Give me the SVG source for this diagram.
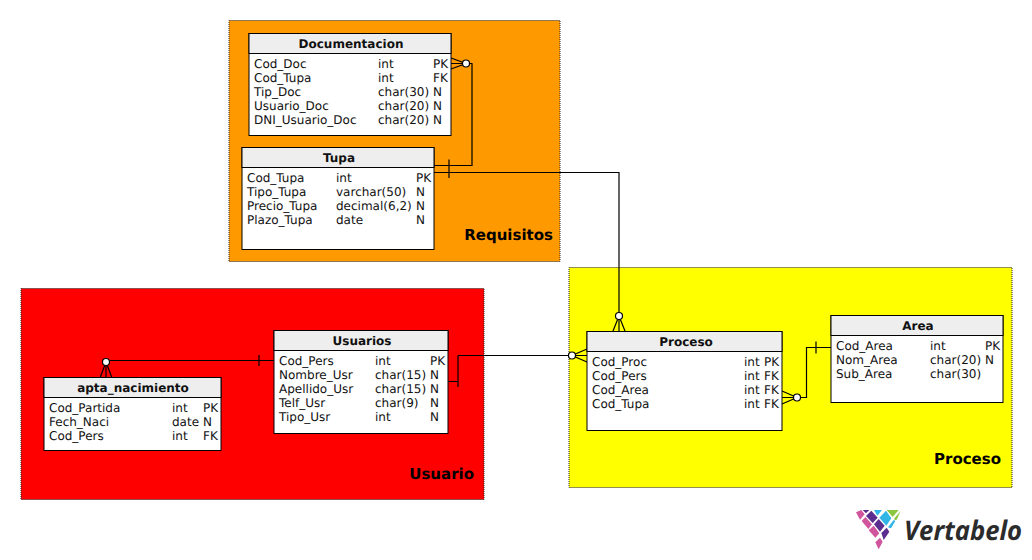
<svg xmlns="http://www.w3.org/2000/svg" width="1032" height="560" viewBox="0 0 1032 560">
<style>
text{font-family:"DejaVu Sans",sans-serif;font-size:12px;fill:#111;text-rendering:geometricPrecision}
.t{font-weight:bold;text-anchor:middle;font-size:12px}
.z{font-weight:bold;font-size:15px;fill:#000;text-anchor:end}
.r{stroke:#222;stroke-width:1;stroke-dasharray:1 1;stroke-dashoffset:0.5}
.b{fill:#fff;stroke:#000;stroke-width:1}
.h{fill:#eee;stroke:#000;stroke-width:1}
.c{fill:none;stroke:#000;stroke-width:1.2}
.o{fill:#fff;stroke:#000;stroke-width:1.2}
</style>
<rect width="1032" height="560" fill="#fff"/>
<g id="region-requisitos"><rect class="r" x="229" y="20.500" width="331" height="241" fill="#ff9900"/><text class="z" x="553" y="240">Requisitos</text></g>
<g id="region-usuario"><rect class="r" x="21" y="288.500" width="463" height="211" fill="#ff0000"/><text class="z" x="474" y="479">Usuario</text></g>
<g id="region-proceso"><rect class="r" x="569" y="267.500" width="443" height="220" fill="#ffff00"/><text class="z" x="1001" y="464">Proceso</text></g>
<g id="connectors">
<path class="c" d="M451 63.500H472V165.500H434M449 159.500V178"/>
<path class="c" d="M451 58L466 63.500L451 69M451 63.500H466"/>
<circle class="o" cx="466" cy="63.500" r="3.500"/>
<path class="c" d="M434 172.500H619V332M613 331L619 316L625 331"/>
<circle class="o" cx="619" cy="316" r="3.500"/>
<path class="c" d="M448 381.500H458M458 355.500V387M458 355.500H587"/>
<path class="c" d="M587 349L572 355.500L587 362"/>
<circle class="o" cx="572" cy="355.500" r="3.500"/>
<path class="c" d="M782 391L797 397.500L782 404M782 397.500H806.500V347.500H831M816 341.500V353.500"/>
<circle class="o" cx="797" cy="397.500" r="3.500"/>
<path class="c" d="M274 360.500H106M259 355V366"/>
<path class="c" d="M100 378L106 362L112 378M106 362V378"/>
<circle class="o" cx="106" cy="362" r="3.500"/>
</g>
<g id="documentacion"><rect class="b" x="249" y="33.500" width="202" height="102"/><rect class="h" x="249" y="33.500" width="202" height="20"/><text class="t" x="351" y="48">Documentacion</text>
<text x="254" y="68">Cod_Doc</text><text x="378" y="68">int</text><text x="433" y="68">PK</text>
<text x="254" y="82">Cod_Tupa</text><text x="378" y="82">int</text><text x="433" y="82">FK</text>
<text x="254" y="96">Tip_Doc</text><text x="378" y="96">char(30)</text><text x="433" y="96">N</text>
<text x="254" y="110">Usuario_Doc</text><text x="378" y="110">char(20)</text><text x="433" y="110">N</text>
<text x="254" y="124">DNI_Usuario_Doc</text><text x="378" y="124">char(20)</text><text x="433" y="124">N</text></g>
<g id="tupa"><rect class="b" x="242" y="147.500" width="192" height="102"/><rect class="h" x="242" y="147.500" width="192" height="20"/><text class="t" x="339" y="162">Tupa</text>
<text x="247" y="182">Cod_Tupa</text><text x="336" y="182">int</text><text x="416" y="182">PK</text>
<text x="247" y="196">Tipo_Tupa</text><text x="336" y="196">varchar(50)</text><text x="416" y="196">N</text>
<text x="247" y="210">Precio_Tupa</text><text x="336" y="210">decimal(6,2)</text><text x="416" y="210">N</text>
<text x="247" y="224">Plazo_Tupa</text><text x="336" y="224">date</text><text x="416" y="224">N</text></g>
<g id="usuarios"><rect class="b" x="274" y="330.500" width="174" height="103"/><rect class="h" x="274" y="330.500" width="174" height="20"/><text class="t" x="362" y="345">Usuarios</text>
<text x="279" y="365">Cod_Pers</text><text x="375" y="365">int</text><text x="430" y="365">PK</text>
<text x="279" y="379">Nombre_Usr</text><text x="375" y="379">char(15)</text><text x="430" y="379">N</text>
<text x="279" y="393">Apellido_Usr</text><text x="375" y="393">char(15)</text><text x="430" y="393">N</text>
<text x="279" y="407">Telf_Usr</text><text x="375" y="407">char(9)</text><text x="430" y="407">N</text>
<text x="279" y="421">Tipo_Usr</text><text x="375" y="421">int</text><text x="430" y="421">N</text></g>
<g id="apta_nacimiento"><rect class="b" x="44" y="377.500" width="177" height="73"/><rect class="h" x="44" y="377.500" width="177" height="20"/><text class="t" x="133" y="392">apta_nacimiento</text>
<text x="49" y="412">Cod_Partida</text><text x="172" y="412">int</text><text x="203" y="412">PK</text>
<text x="49" y="426">Fech_Naci</text><text x="172" y="426">date</text><text x="203" y="426">N</text>
<text x="49" y="440">Cod_Pers</text><text x="172" y="440">int</text><text x="203" y="440">FK</text></g>
<g id="proceso"><rect class="b" x="587" y="331.500" width="195" height="99"/><rect class="h" x="587" y="331.500" width="195" height="20"/><text class="t" x="686" y="346">Proceso</text>
<text x="592" y="366">Cod_Proc</text><text x="744" y="366">int</text><text x="764" y="366">PK</text>
<text x="592" y="380">Cod_Pers</text><text x="744" y="380">int</text><text x="764" y="380">FK</text>
<text x="592" y="394">Cod_Area</text><text x="744" y="394">int</text><text x="764" y="394">FK</text>
<text x="592" y="408">Cod_Tupa</text><text x="744" y="408">int</text><text x="764" y="408">FK</text></g>
<g id="area"><rect class="b" x="831" y="315.500" width="172" height="87"/><rect class="h" x="831" y="315.500" width="172" height="20"/><text class="t" x="918" y="330">Area</text>
<text x="836" y="350">Cod_Area</text><text x="930" y="350">int</text><text x="985" y="350">PK</text>
<text x="836" y="364">Nom_Area</text><text x="930" y="364">char(20)</text><text x="985" y="364">N</text>
<text x="836" y="378">Sub_Area</text><text x="930" y="378">char(30)</text></g>
<g id="logo">
<g transform="translate(852 505) scale(.3333)">
<polygon points="12,22 28,15 38,28 24,44" fill="#d1559c"/>
<polygon points="32,15 52,15 42,25" fill="#5b2d8e"/>
<polygon points="42,33 58,17 77,38 62,54" fill="#5b2d8e"/>
<polygon points="29,48 40,36 60,58 49,72" fill="#d1559c"/>
<polygon points="66,15 90,15 76,32" fill="#2fb5e6"/>
<polygon points="66,58 80,42 98,62 84,80" fill="#5b2d8e"/>
<polygon points="50,76 65,62 82,85 70,98" fill="#d1559c"/>
<polygon points="82,38 102,17 118,40 103,62" fill="#2fb5e6"/>
<polygon points="104,15 140,15 122,36" fill="#8cc63f"/>
<polygon points="127,40 146,18 134,44 128,46" fill="#8cc63f"/>
<polygon points="108,67 125,45 130,48 117,70" fill="#2fb5e6"/>
<polygon points="88,84 104,68 112,80 95,105" fill="#5b2d8e"/>
<polygon points="70,112 84,98 92,110 80,133" fill="#d1559c"/>
</g>
<text x="904" y="540" textLength="118" lengthAdjust="spacingAndGlyphs" style="font-family:'Open Sans',sans-serif;font-size:27px;font-weight:700;font-style:italic;fill:#2b2b2b">Vertabelo</text>
</g>
</svg>
